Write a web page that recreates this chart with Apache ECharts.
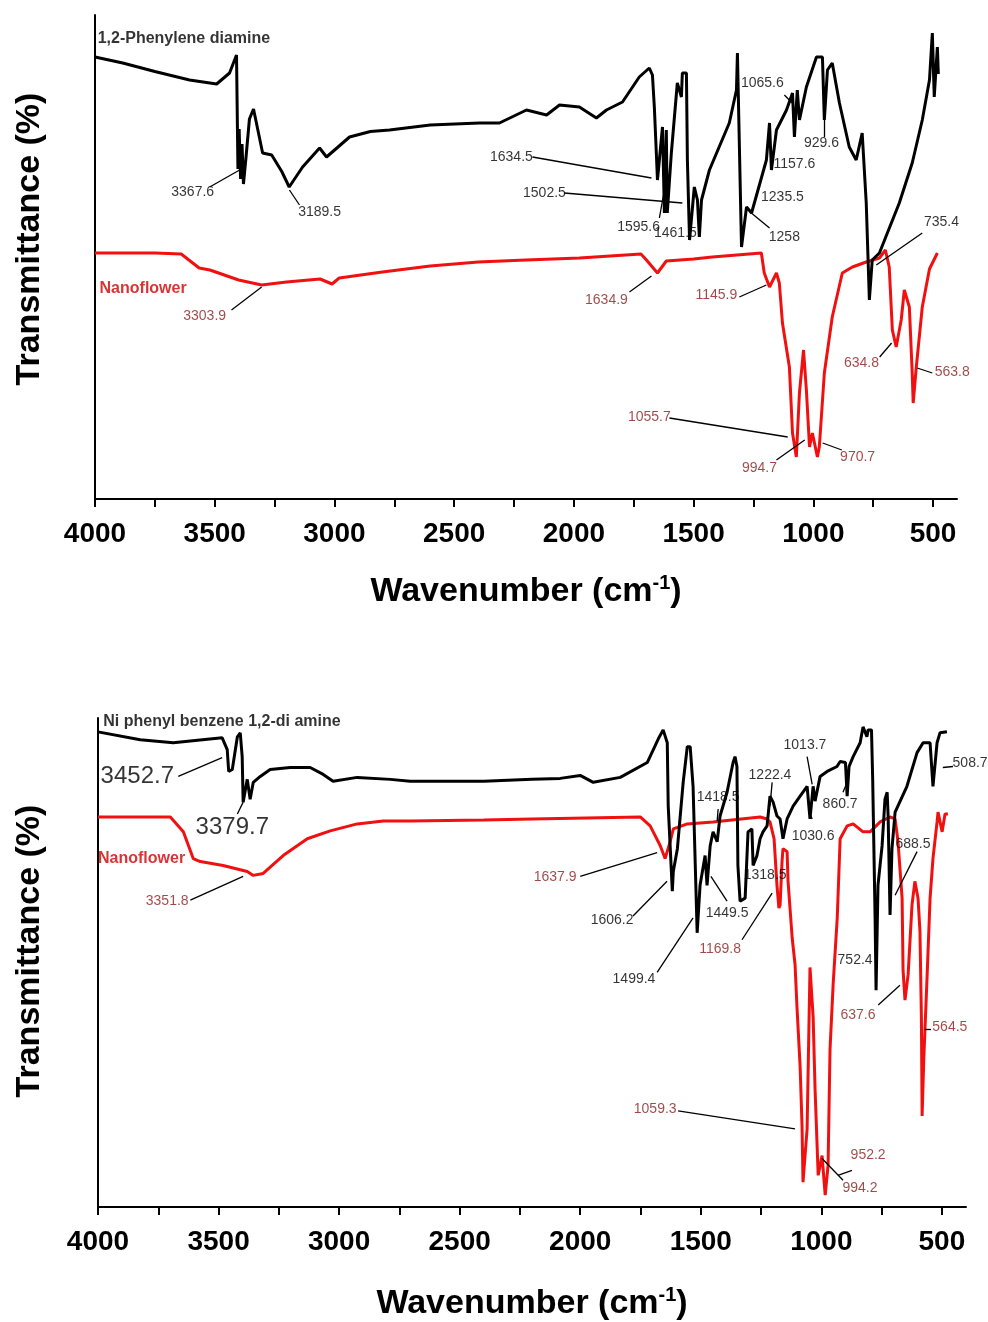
<!DOCTYPE html>
<html lang="en">
<head>
<meta charset="UTF-8">
<title>FTIR spectra</title>
<script src="https://cdn.jsdelivr.net/npm/echarts@6/dist/echarts.min.js"></script>
<style>
  html, body { margin: 0; padding: 0; background: #fff; }
  #main { width: 988px; height: 1322px; }
</style>
</head>
<body>
<div id="main"></div>
<script>
// spectra: [wavenumber (cm-1), transmittance (arb.)]
var blackTop = [[4000,88.4],[3884,87.2],[3750,85.5],[3605,83.8],[3492,83],[3438,85.2],[3409,88.8],[3403,66],[3398,74],[3392,64],[3386,71],[3380,63],[3370,68],[3355,76],[3338,78],[3325,75],[3300,69.2],[3262,68.8],[3220,65.5],[3189,62.4],[3133,66.4],[3062,70.2],[3033,68.4],[2937,72.4],[2850,73.5],[2770,73.8],[2600,74.8],[2394,75.2],[2311,75.2],[2198,77.8],[2114,76.8],[2060,78.8],[1977,78.4],[1906,76.2],[1864,77.8],[1797,79.4],[1727,84.4],[1685,86.2],[1672,84.8],[1664,78.4],[1655,68.4],[1651,63.8],[1643,67.8],[1630,74.4],[1622,57.2],[1614,73.8],[1610,57.2],[1593,69.2],[1568,83.2],[1551,80.4],[1547,85.2],[1530,85.2],[1526,67.8],[1517,51.8],[1497,62.4],[1484,59.8],[1476,52.4],[1467,59.8],[1434,65.8],[1351,75.2],[1321,81.8],[1317,89.2],[1300,50.4],[1279,58.4],[1258,57.2],[1196,67.8],[1183,75.2],[1175,65.8],[1154,73.8],[1112,77.8],[1087,81.2],[1079,72.4],[1067,81.8],[1058,75.8],[1029,82.4],[987,88.4],[962,88.4],[954,75.8],[941,85.8],[921,87.2],[891,79.2],[850,70.4],[821,67.8],[796,73.2],[779,59.2],[766,39.8],[754,47.8],[724,49.2],[641,59.2],[587,67.2],[545,75.8],[515,83.8],[503,93.2],[495,80.4],[482,90.4],[478,85]];

var redTop = [[4000,49.2],[3750,49.2],[3640,49],[3565,46.2],[3520,45.8],[3400,43.8],[3304,42.8],[3200,43.4],[3060,44],[3010,43],[2980,44.2],[2800,45.4],[2600,46.6],[2400,47.4],[2200,47.8],[1977,48.2],[1720,49],[1697,47.8],[1651,45.2],[1614,47.6],[1500,48],[1422,48.4],[1217,49.2],[1205,45.2],[1183,42.4],[1154,45.2],[1142,43.2],[1129,35.2],[1100,26.4],[1087,13.2],[1071,8.4],[1058,21.2],[1041,29.8],[1029,21.8],[1016,10.4],[1004,13.2],[983,8.4],[975,10.4],[954,25.2],[921,36.4],[879,45.2],[837,46.4],[779,47.4],[724,48.2],[699,49.8],[683,46.4],[670,33.8],[654,30.4],[633,35.8],[620,41.8],[599,38.4],[587,25.2],[583,19.2],[570,26.4],[545,38.4],[515,46],[482,49.2]];

var blackBottom = [[4000,96],[3825,94.4],[3688,93.8],[3485,94.8],[3464,92.4],[3458,88],[3443,88.4],[3422,95],[3410,95.8],[3402,91],[3398,81.8],[3381,86.4],[3369,82.4],[3356,85.8],[3327,87],[3286,88.4],[3203,88.8],[3120,88.8],[3066,87.4],[3025,86],[2925,86.8],[2788,86.4],[2705,86],[2400,86],[2200,86.4],[2083,86.6],[2000,87.2],[1946,85.8],[1834,86.8],[1722,89.8],[1676,94.6],[1656,96.4],[1639,93.8],[1635,81],[1618,63.8],[1614,67.8],[1597,72.4],[1573,85.8],[1556,93],[1544,93],[1532,85],[1515,55.4],[1503,65],[1482,71],[1474,65],[1461,73],[1449,75.8],[1432,73.8],[1420,79],[1391,83.8],[1366,89.8],[1358,91],[1350,89],[1346,69],[1337,61.8],[1316,62.4],[1304,75.8],[1288,76.4],[1283,69],[1267,71],[1254,74.4],[1242,75.8],[1225,77],[1213,83],[1200,81.8],[1184,79],[1171,78.4],[1159,74.4],[1142,78.4],[1117,81],[1088,83],[1059,85],[1047,78.4],[1034,85],[1026,82],[1005,87],[976,88],[935,89],[922,90],[900,89.8],[893,83],[885,89],[868,91],[839,93.8],[827,97],[811,95],[806,96.4],[792,96.4],[787,86.4],[777,58.4],[773,43.8],[765,65],[748,73],[736,82.4],[727,83.8],[723,79],[715,59],[707,72.4],[694,79.8],[645,85],[603,91.8],[578,93.8],[549,93.8],[537,85],[520,93.8],[508,95.8],[479,96]];

var redBottom = [[4000,78.8],[3700,78.8],[3646,75.8],[3605,70.4],[3576,69.8],[3481,69],[3381,67.8],[3356,67],[3315,67.4],[3232,71],[3132,74.4],[3037,76],[2925,77.4],[2817,78],[2705,78],[2400,78.2],[2200,78.4],[1751,78.8],[1710,77],[1668,73],[1648,70.4],[1627,73.8],[1614,76.4],[1556,77.4],[1449,77.8],[1254,78.8],[1225,78.4],[1213,77.8],[1196,74.4],[1184,65],[1176,60.4],[1171,61],[1163,69.8],[1159,72.4],[1142,71.8],[1138,65.8],[1121,54.4],[1109,49],[1101,40.4],[1088,28.4],[1080,16.4],[1076,5],[1059,15.8],[1047,48.4],[1034,38.4],[1026,23.8],[1013,6.4],[997,10.4],[984,2.4],[972,8.4],[964,31.8],[951,45],[934,58.4],[922,74.4],[893,77],[868,77.4],[827,75.8],[798,75.8],[756,77.8],[715,78.8],[694,78.4],[682,73.8],[665,62.4],[661,47.8],[653,41.8],[640,47],[624,61],[612,65.8],[599,62.4],[591,55.8],[585,38.4],[582,18.4],[575,30],[562,45.8],[549,62.4],[537,70.4],[520,77.8],[516,79.8],[499,75.8],[487,79.4],[475,79.4]];

// peak labels: [text, label wn, label T, leader from wn, T, leader to wn, T]
var blackNotesTop = [
  ['3367.6', 3592, 61.4, 3521, 62.4, 3396, 65.8],
  ['3189.5', 3062, 57.4, 3146, 58.8, 3188, 61.8],
  ['1634.5', 2261, 68.4, 2173, 68.4, 1676, 64.2],
  ['1502.5', 2123, 61.2, 2040, 61.2, 1547, 59.2],
  ['1595.6', 1730, 54.4, 1643, 56.2, 1622, 61.8],
  ['1461.5', 1576, 53.2],
  ['1065.6', 1213, 83.2, 1121, 80.8, 1088, 79.2],
  ['929.6', 966, 71.2, 954, 72.4, 954, 75.8],
  ['1157.6', 1079, 67],
  ['1235.5', 1129, 60.4],
  ['1258', 1121, 52.4, 1183, 54.2, 1259, 57.2],
  ['735.4', 465, 55.4, 545, 53.2, 737, 46.8]
];
var redNotesTop = [
  ['3303.9', 3542, 36.6, 3430, 37.8, 3304, 42.4],
  ['1634.9', 1864, 39.8, 1768, 41.4, 1676, 44.6],
  ['1145.9', 1405, 40.8, 1309, 40.4, 1196, 42.8],
  ['1055.7', 1685, 16.4, 1601, 16.2, 1107, 12.4],
  ['994.7', 1225, 6.2, 1154, 7.8, 1036, 11.8],
  ['970.7', 815, 8.4, 881, 9.8, 961, 11.2],
  ['634.8', 799, 27.2, 723, 28.4, 673, 31.2],
  ['563.8', 420, 25.4, 566, 26.2, 503, 25.2]
];
var blackNotesBottom = [
  ['3452.7', 3837, 87, 3667, 87, 3485, 90.8],
  ['3379.7', 3443, 76.8, 3422, 79.4, 3398, 81.8],
  ['1606.2', 1868, 58, 1781, 58.8, 1640, 65.8],
  ['1499.4', 1777, 46, 1681, 47.4, 1532, 58.4],
  ['1449.5', 1391, 59.4, 1391, 61.8, 1458, 66.8],
  ['1418.5', 1428, 82.8, 1428, 80.4, 1432, 78],
  ['1318.5', 1233, 67],
  ['1222.4', 1213, 87.2, 1204, 85.8, 1213, 81],
  ['1013.7', 1068, 93.4, 1059, 91, 1038, 85.4],
  ['1030.6', 1034, 75, 1038, 78.4, 1047, 79.4],
  ['860.7', 922, 81.4, 910, 83.8, 893, 85.8],
  ['752.4', 860, 49.8],
  ['688.5', 620, 73.4, 603, 71.8, 694, 63],
  ['508.7', 383, 89.6, 454, 89, 496, 88.8]
];
var redNotesBottom = [
  ['3351.8', 3713, 61.8, 3617, 62, 3398, 66.8],
  ['1637.9', 2104, 66.6, 2000, 66.8, 1681, 71.6],
  ['1169.8', 1420, 52, 1329, 54, 1204, 63.4],
  ['1059.3', 1689, 19.8, 1594, 19.4, 1109, 15.8],
  ['952.2', 806, 10.4, 873, 7.4, 931, 6.4],
  ['994.2', 840, 3.8, 910, 5.4, 997, 9.8],
  ['637.6', 848, 38.8, 764, 40.8, 674, 44.8],
  ['564.5', 467, 36.4, 572, 36, 545, 36]
];

var xTickLabels = [4000, 3500, 3000, 2500, 2000, 1500, 1000, 500];

var FONT = 'Liberation Sans, Arial, sans-serif';
var RED = '#f01010';
var DARKRED = '#8b1a1a';
var bigLabels = ['3452.7', '3379.7'];

var xTicks = [];
for (var v = 500; v <= 4000; v += 250) xTicks.push(v);

function xAxis(grid, gap) {
    return {
        type: 'value', gridIndex: grid, min: 400, max: 4000, inverse: true,
        axisLine: { lineStyle: { color: '#000', width: 2 } },
        axisTick: { customValues: xTicks, length: 8, lineStyle: { color: '#000', width: 2 } },
        axisLabel: {
            customValues: xTickLabels, fontSize: 28, fontWeight: 'bold', color: '#000', fontFamily: FONT, margin: 21,
            formatter: function (v) { return String(v); }
        },
        splitLine: { show: false },
        name: '{a|Wavenumber (cm}{s|-1}{a|)}',
        nameLocation: 'middle', nameGap: gap,
        nameTextStyle: {
            rich: {
                a: { fontSize: 34, fontWeight: 'bold', fontFamily: FONT, color: '#000', lineHeight: 38 },
                s: { fontSize: 20, fontWeight: 'bold', fontFamily: FONT, color: '#000', lineHeight: 20, verticalAlign: 'top' }
            }
        }
    };
}

function yAxis(grid, max) {
    return {
        type: 'value', gridIndex: grid, min: 0, max: max,
        axisLine: { show: true, lineStyle: { color: '#000', width: 2 } },
        axisTick: { show: false }, axisLabel: { show: false }, splitLine: { show: false }
    };
}

function spectrum(idx, data, color, z) {
    return {
        type: 'line', xAxisIndex: idx, yAxisIndex: idx, data: data,
        showSymbol: false, symbol: 'none', z: z, silent: true,
        lineStyle: { color: color, width: 3 }
    };
}

function leaders(idx, notes) {
    var segs = [];
    notes.forEach(function (n) {
        if (n.length > 3) segs.push({ coords: [[n[3], n[4]], [n[5], n[6]]] });
    });
    return {
        type: 'lines', coordinateSystem: 'cartesian2d', xAxisIndex: idx, yAxisIndex: idx,
        polyline: false, silent: true, clip: false, z: 5, data: segs,
        lineStyle: { color: '#000', width: 1.3, opacity: 1, curveness: 0 }
    };
}

function labels(idx, notes, color) {
    return {
        type: 'scatter', xAxisIndex: idx, yAxisIndex: idx, symbolSize: 0, silent: true, clip: false, z: 6,
        data: notes.map(function (n) {
            var big = bigLabels.indexOf(n[0]) >= 0;
            return { value: [n[1], n[2]], name: n[0], label: { fontSize: big ? 24 : 14 } };
        }),
        label: { show: true, position: 'inside', formatter: '{b}', color: color, fontSize: 14, fontFamily: FONT }
    };
}

// left-anchored bold caption
function caption(idx, text, x, y, color) {
    return {
        type: 'scatter', xAxisIndex: idx, yAxisIndex: idx, symbolSize: 0, silent: true, clip: false, z: 6,
        data: [{ value: [x, y], name: text }],
        label: { show: true, position: 'right', distance: 0, formatter: '{b}', color: color, fontSize: 16, fontWeight: 'bold', fontFamily: FONT }
    };
}

var chart = echarts.init(document.getElementById('main'));
chart.setOption({
    animation: false,
    backgroundColor: '#fff',
    grid: [
        { left: 95, top: 15, width: 862, height: 484 },
        { left: 98, top: 718, width: 868, height: 494 }
    ],
    xAxis: [xAxis(0, 74), xAxis(1, 78)],
    yAxis: [yAxis(0, 96.8), yAxis(1, 98.8)],
    graphic: [
        { type: 'text', x: 30, y: 239, rotation: Math.PI / 2,
          style: { text: 'Transmittance (%)', fontSize: 34, fontWeight: 'bold', fontFamily: FONT, fill: '#000', align: 'center', verticalAlign: 'middle' } },
        { type: 'text', x: 30, y: 951, rotation: Math.PI / 2,
          style: { text: 'Transmittance (%)', fontSize: 34, fontWeight: 'bold', fontFamily: FONT, fill: '#000', align: 'center', verticalAlign: 'middle' } }
    ],
    series: [
        spectrum(0, redTop, RED, 2),
        spectrum(0, blackTop, '#000', 3),
        spectrum(1, redBottom, RED, 2),
        spectrum(1, blackBottom, '#000', 3),
        leaders(0, blackNotesTop.concat(redNotesTop)),
        leaders(1, blackNotesBottom.concat(redNotesBottom)),
        labels(0, blackNotesTop, '#000'),
        labels(0, redNotesTop, DARKRED),
        labels(1, blackNotesBottom, '#000'),
        labels(1, redNotesBottom, DARKRED),
        caption(0, '1,2-Phenylene diamine', 3989, 92, '#000'),
        caption(0, 'Nanoflower', 3981, 42, '#d00000'),
        caption(1, 'Ni phenyl benzene 1,2-di amine', 3978, 98, '#000'),
        caption(1, 'Nanoflower', 4000, 70.4, '#d00000')
    ]
});
</script>
</body>
</html>
